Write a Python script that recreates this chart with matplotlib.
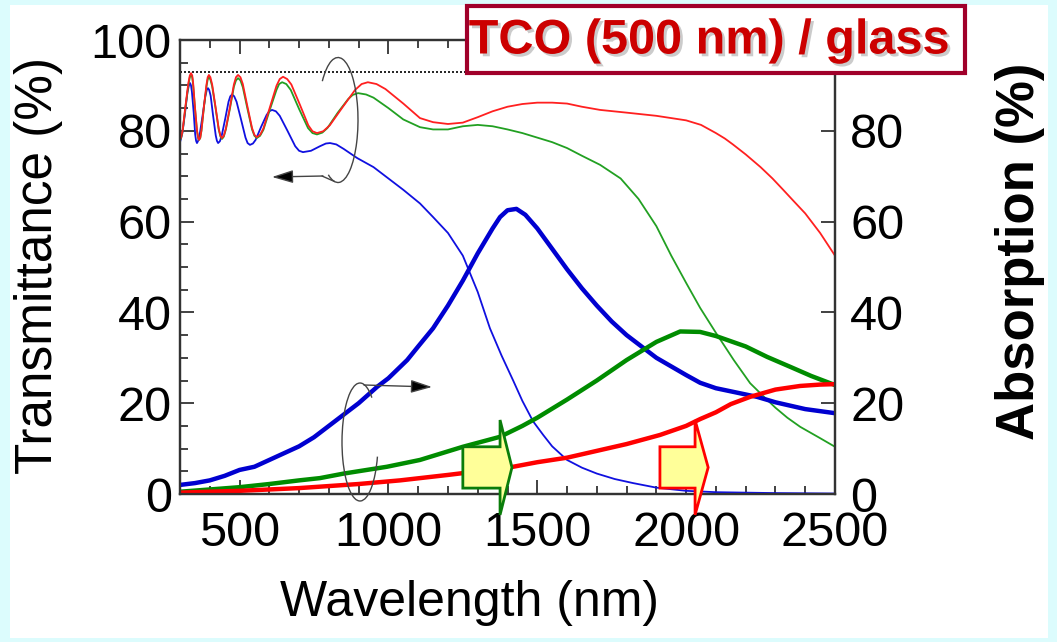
import numpy as np
import matplotlib.pyplot as plt
from matplotlib.patches import Rectangle, Polygon, Arc
from matplotlib.ticker import MultipleLocator
import matplotlib.patheffects as pe

plt.rcParams['font.family'] = ['Liberation Sans', 'DejaVu Sans']
plt.rcParams['lines.solid_joinstyle'] = 'round'
plt.rcParams['lines.solid_capstyle'] = 'round'

# transmittance (thin lines, left axis)
wl_red_t = [300, 304, 309, 318, 328, 333, 337, 341, 344, 350, 357, 361, 364, 368, 372, 380, 389, 393,
            397, 402, 408, 419, 430, 436, 441, 447, 454, 468, 481, 488, 495, 503, 511, 526, 542, 550,
            558, 569, 580, 602, 624, 635, 646, 660, 674, 703, 731, 745, 760, 781, 803, 845, 888, 910,
            931, 960, 990, 1050, 1106, 1150, 1200, 1250, 1300, 1350, 1400, 1450, 1500, 1550, 1600,
            1650, 1711, 1800, 1900, 2000, 2050, 2100, 2130, 2157, 2200, 2250, 2290, 2326, 2360,
            2400, 2450, 2500]
t_red = [78, 78.6, 80.2, 85.3, 90.5, 92.2, 92.7, 92.2, 90.6, 85.4, 80.1, 78.5, 78, 78.5, 80.1, 85.2, 90.2, 91.8,
         92.3, 91.8, 90.2, 85.4, 80.5, 78.9, 78.4, 78.9, 80.5, 85.3, 90.2, 91.8, 92.3, 91.8, 90.3, 85.5, 80.6, 79.1,
         78.6, 79.1, 80.5, 85.2, 89.9, 91.4, 91.9, 91.4, 90.2, 85.7, 81.2, 79.9, 79.5, 79.9, 81.2, 85.1, 89.0, 90.3,
         90.7, 90.3, 89.2, 86, 82.8, 81.9, 81.5, 81.8, 83, 84.3, 85.3, 85.9, 86.2, 86.2, 86,
         85.3, 84.6, 84, 83.3, 82.3, 81.3, 79.5, 78.3, 77, 74.8, 72, 69.5, 67, 64.6,
         61.8, 57.5, 52.5]

wl_green_t = [300, 304, 309, 318, 328, 333, 337, 341, 344, 350, 357, 361, 364, 368, 372, 380, 389, 393,
              397, 402, 408, 419, 430, 436, 441, 447, 454, 468, 481, 488, 495, 503, 511, 526, 542, 550,
              558, 569, 580, 602, 624, 633, 643, 657, 672, 700, 730, 745, 760, 778, 795, 830, 865, 880,
              898, 925, 950, 1000, 1050, 1106, 1150, 1200, 1250, 1300, 1350, 1400, 1450, 1500, 1550,
              1600, 1650, 1711, 1780, 1840, 1900, 1950, 2000, 2047, 2100, 2160, 2215, 2260, 2300,
              2340, 2383, 2450, 2500]
t_green = [78, 78.5, 80, 85, 90, 91.8, 92.2, 91.8, 90.2, 85.2, 80, 78.4, 78, 78.4, 80, 85, 89.8, 91.3,
           91.8, 91.3, 89.8, 85.2, 80.3, 78.7, 78.2, 78.7, 80.3, 85, 89.7, 91.1, 91.6, 91.1, 89.6, 85, 80.3, 78.9,
           78.4, 78.9, 80.2, 84.7, 89, 90.3, 90.7, 90.3, 89, 84.8, 80.6, 79.5, 79.2, 79.6, 80.6, 84, 87, 87.9,
           88.3, 88, 87.3, 85, 82.5, 80.8, 80.3, 80.3, 81, 81.3, 81, 80.3, 79.5, 78.5, 77.5,
           76.2, 74.5, 72.5, 69.5, 65, 59, 52.5, 46.5, 41, 35.5, 29.5, 24.4, 21.5, 19,
           16.8, 14.8, 12.3, 10.4]

wl_blue_t = [300, 308, 317, 325, 330, 334, 337, 340, 346, 351, 354, 357, 361, 366, 376, 385, 390, 394,
             398, 403, 411, 420, 424, 428, 434, 440, 452, 463, 469, 475, 482, 490, 505, 520, 527, 535,
             545, 554, 572, 591, 600, 609, 622, 635, 661, 687, 700, 713, 740, 770, 790, 804, 825, 850,
             895, 950, 1000, 1050, 1106, 1150, 1200, 1250, 1300, 1341, 1380, 1419, 1450, 1486, 1520,
             1550, 1600, 1650, 1700, 1760, 1822, 1900, 2000, 2100, 2300, 2500]
t_blue = [77.5, 79.5, 84, 88.5, 90, 90.5, 90, 88.6, 84, 79.2, 77.8, 77.3, 77.8, 79.1, 83.4, 87.6, 89, 89.4,
          89, 87.7, 83.4, 79.0, 77.8, 77.3, 77.7, 78.9, 82.7, 86.4, 87.6, 88, 87.6, 86.4, 82.5, 78.5, 77.3, 76.9,
          77.2, 78.0, 80.8, 83.5, 84.3, 84.6, 84.3, 83.3, 80, 76.6, 75.6, 75.3, 75.6, 76.6, 77.2, 77.3, 77, 76,
          74, 72, 69.5, 67, 64, 61, 57.5, 52.5, 44.5, 36.5, 30.5, 25, 20.5, 16, 13,
          10.5, 7.5, 5.8, 4.5, 3.3, 2.4, 1.4, 0.7, 0.4, 0.2, 0.1]

# absorption (thick lines, right axis)
wl_blue_a = [300, 350, 400, 450, 500, 550, 600, 650, 700, 750, 800, 850, 900, 962, 1000, 1063, 1100,
             1150, 1200, 1250, 1300, 1350, 1375, 1400, 1430, 1460, 1500, 1550, 1600, 1650, 1700, 1750,
             1800, 1900, 2000, 2047, 2100, 2238, 2300, 2400, 2500]
a_blue = [2, 2.4, 3, 4, 5.3, 6, 7.5, 9, 10.5, 12.5, 15, 17.5, 20, 23.6, 25.5, 29.5, 32.5,
          36.5, 41.5, 47, 53, 58.5, 61, 62.5, 62.8, 61.5, 58.5, 54, 49.5, 45.3, 41.5, 38,
          35, 30, 26.2, 24.5, 23.3, 21.4, 20.2, 18.7, 17.8]

wl_green_a = [300, 400, 500, 600, 700, 770, 850, 995, 1106, 1250, 1375, 1450, 1500, 1600, 1700,
              1800, 1900, 1980, 2047, 2100, 2200, 2272, 2350, 2420, 2500]
a_green = [0.5, 1, 1.5, 2.2, 3, 3.5, 4.5, 6, 7.5, 10.4, 12.6, 15, 16.8, 20.8, 25,
           29.5, 33.5, 35.8, 35.7, 34.8, 32.5, 30.2, 28, 26, 24]

wl_red_a = [300, 500, 700, 900, 1039, 1200, 1300, 1419, 1500, 1600, 1700, 1800, 1912, 2000, 2047,
            2100, 2150, 2215, 2300, 2383, 2450, 2500]
a_red = [0.3, 0.7, 1.3, 2.2, 3, 4.2, 5, 6, 7, 8, 9.5, 11, 13, 15, 16.5,
         18, 19.8, 21.4, 23, 23.8, 24.1, 24.2]

x_ticks = [500, 1000, 1500, 2000, 2500]
left_ticks = [0, 20, 40, 60, 80, 100]
right_ticks = [0, 20, 40, 60, 80]

W, H = 1057, 642
fig = plt.figure(figsize=(W / 100, H / 100), dpi=100)
fig.patch.set_facecolor('#dcfcfd')
fig.add_artist(Rectangle((10 / W, 4 / H), 1038 / W, 633 / H, transform=fig.transFigure,
                         facecolor='white', edgecolor='none', zorder=0))

ax = fig.add_axes([180 / W, 1 - 494 / H, 655 / W, 454 / H])
ax2 = ax.twinx()
ax.set_zorder(2)
ax2.set_zorder(1)
ax.patch.set_visible(False)
ax2.patch.set_facecolor('white')

ax.set_xlim(300, 2500)
ax.set_ylim(0, 100)
ax2.set_ylim(0, 100)

ax.axhline(93, color='black', lw=1.2, ls=(0, (1.2, 1.2)), zorder=1)
ax.plot(wl_blue_t, t_blue, color='#1010e0', lw=1.3)
ax.plot(wl_green_t, t_green, color='#22a022', lw=1.3)
ax.plot(wl_red_t, t_red, color='#ff2020', lw=1.3)
ax.plot(wl_blue_a, a_blue, color='#0000d0', lw=3.2)
ax.plot(wl_green_a, a_green, color='#008c00', lw=3.2)
ax.plot(wl_red_a, a_red, color='#ff0000', lw=3.2)

for axis in (ax, ax2):
    for s in axis.spines.values():
        s.set_linewidth(1.6)
        s.set_color('#333333')

ax.set_xticks(x_ticks)
ax.xaxis.set_minor_locator(MultipleLocator(100))
ax.set_yticks(left_ticks)
ax.yaxis.set_minor_locator(MultipleLocator(5))
ax.tick_params(which='both', direction='in', top=True, labelsize=35, colors='#333333',
               labelcolor='black', width=1.3)
ax.tick_params(which='major', length=10)
ax.tick_params(which='minor', length=5.5)
ax.tick_params(axis='y', pad=6)
ax.tick_params(axis='x', pad=12)
ax2.set_yticks(right_ticks)
ax2.tick_params(direction='in', length=10, width=1.3, labelsize=35, pad=11, colors='#333333',
                labelcolor='black')

# yellow block arrows
def block_arrow(x0, x1, x2, edge):
    pts = [(x0, 1.3), (x0, 10.4), (x1, 10.4), (x1, 16.3), (x2, 5.85), (x1, -4.6), (x1, 1.3)]
    ax.add_patch(Polygon(pts, closed=True, facecolor='#ffff99', edgecolor=edge, lw=2,
                         clip_on=False, zorder=5))

block_arrow(1250, 1375, 1415, '#0a7d0a')
block_arrow(1912, 2030, 2074, '#ff0000')

fig.text(39 / W, 1 - 265 / H, 'Transmittance (%)', rotation=90, fontsize=37,
         ha='center', va='center')
fig.text(1020 / W, 1 - 251 / H, 'Absorption (%)', rotation=90, fontsize=38,
         fontweight='bold', ha='center', va='center')
fig.text(469 / W, 1 - 603 / H, 'Wavelength (nm)', fontsize=36, ha='center', va='center')

# overlay in pixel units for the annotations and the title box
ov = fig.add_axes([0, 0, 1, 1], zorder=10)
ov.set_xlim(0, W)
ov.set_ylim(0, H)
ov.axis('off')
ov.patch.set_visible(False)

ov.add_patch(Arc((338, H - 120), 40, 125, theta1=-100, theta2=112, color='#444444', lw=1))
ov.plot([334.5, 322], [H - 181.5, H - 176], color='#444444', lw=1)
ov.annotate('', xy=(272, H - 177), xytext=(323, H - 176),
            arrowprops=dict(arrowstyle='-|>,head_length=1.3,head_width=0.4',
                            color='#444444', lw=1, shrinkA=0, shrinkB=0, fc='black'))
ov.add_patch(Arc((360, H - 442), 36, 118, theta1=75, theta2=320, color='#444444', lw=1))
ov.annotate('', xy=(432, H - 387), xytext=(364, H - 385),
            arrowprops=dict(arrowstyle='-|>,head_length=1.3,head_width=0.4',
                            color='#444444', lw=1, shrinkA=0, shrinkB=0, fc='black'))

ov.add_patch(Rectangle((467, H - 73), 498, 67, facecolor='white', edgecolor='#a0002a', lw=3))
ov.text(709, H - 41, 'TCO (500 nm) / glass', fontsize=35, fontweight='bold', color='#cc0000',
        ha='center', va='center',
        path_effects=[pe.withSimplePatchShadow(offset=(2, -2), shadow_rgbFace='#999999', alpha=0.5)])

fig.savefig('out.png', dpi=100, facecolor=fig.get_facecolor())
